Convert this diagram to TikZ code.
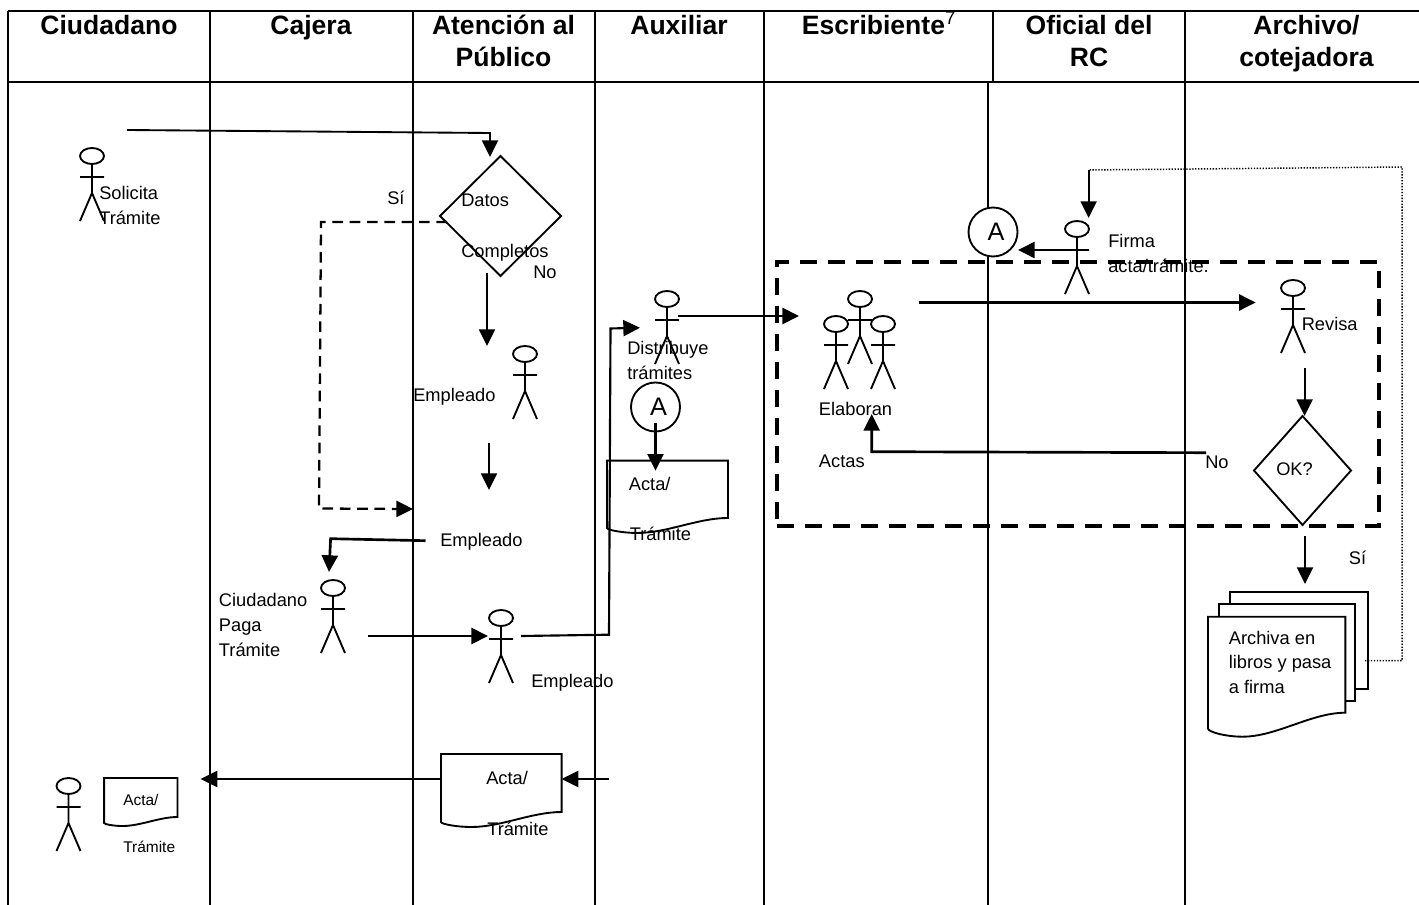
\documentclass[tikz,border=0pt]{standalone}
\usepackage{fontspec}
\setmainfont{Liberation Sans}
\usetikzlibrary{arrows.meta,calc,shapes.geometric}

\tikzset{
  hdr/.style={font=\fontsize{19.9}{23}\selectfont\bfseries, anchor=base, inner sep=0pt},
  lbl/.style={font=\fontsize{13.7}{18.75}\selectfont, anchor=base west, inner sep=0pt},
  lblsmall/.style={font=\fontsize{11.6}{14}\selectfont, anchor=base west, inner sep=0pt},
  lane/.style={line width=1.6pt},
  headline/.style={line width=2.2pt},
  flow/.style={line width=2pt, -{Triangle[length=12.5pt,width=12pt]}},
  thinshape/.style={line width=1.4pt},
  decision/.style={diamond, draw, thinshape, inner sep=0pt, outer sep=0pt},
  docbox/.style={inner sep=0pt, outer sep=0pt},
  sheet/.style={draw, thinshape, fill=white, inner sep=0pt, outer sep=0pt},
  connector/.style={circle, draw, thinshape, fill=white, minimum size=36.75pt, inner sep=0pt,
    font=\fontsize{19}{23}\selectfont},
  actor/.pic={
    \draw[thinshape] (0,0) ellipse (12 and 8);
    \draw[thinshape] (0,8) -- (0,37) (-12,21) -- (12,21) (-12,65) -- (0,37) -- (12,65);
  }
}

% outline of a sheet with a wavy foot: node name, drop of the lower left corner
\newcommand{\wavydoc}[2]{
  \draw[thinshape, fill=white] (#1.north west) -- (#1.north east) -- (#1.south east)
    .. controls ($(#1.south east)!.25!(#1.south west)$) and ($(#1.south east)!.5!(#1.south west)+(0,#2*1.5)$)
    .. ($(#1.south east)!.75!(#1.south west)+(0,#2*1.5)$)
    .. controls ($(#1.south east)!.87!(#1.south west)+(0,#2*1.5)$) and ($(#1.south west)+(0,#2*1.2)$)
    .. ($(#1.south west)+(0,#2)$) -- cycle;
}

\begin{document}
\begin{tikzpicture}[x=0.75pt, y=-0.75pt]
  \useasboundingbox (0,0) rectangle (1419,905);

  % ---------------- lanes ----------------
  \draw[headline] (8,11) -- (1419,11);
  \draw[headline] (8,82) -- (1419,82);
  \draw[headline] (8,11) -- (8,905);
  \draw[lane] (210,11) -- (210,905);
  \draw[lane] (413,11) -- (413,905);
  \draw[lane] (595,11) -- (595,905);
  \draw[lane] (764,11) -- (764,905);
  \draw[lane] (993,11) -- (993,82);
  \draw[lane] (988,82) -- (988,905);
  \draw[lane] (1185,11) -- (1185,905);

  \node[hdr] (hciudadano) at (109,35) {Ciudadano};
  \node[hdr] (hcajera) at (311,35) {Cajera};
  \node[hdr] (hatencion) at (503.5,35) {Atención al};
  \node[hdr] (hpublico) at (503.5,67) {Público};
  \node[hdr] (hauxiliar) at (679,35) {Auxiliar};
  \node[hdr] (hescribiente) at (879,35) {Escribiente\textsuperscript{\normalfont 7}};
  \node[hdr] (hoficial) at (1089,35) {Oficial del};
  \node[hdr] (hrc) at (1089,67) {RC};
  \node[hdr] (harchivo) at (1306.5,35) {Archivo/};
  \node[hdr] (hcotejadora) at (1306.5,67) {cotejadora};

  % ---------------- shapes ----------------
  \node[draw, line width=2.8pt, dash pattern=on 12.7pt off 8.3pt, inner sep=0pt, outer sep=0pt,
    minimum width=451.5pt, minimum height=198pt] (elaboracion) at (1078,394) {};

  \node[decision, minimum width=90.75pt, minimum height=90pt] (datos) at (500.5,216) {};
  \node[decision, minimum width=72.75pt, minimum height=81.75pt] (okrev) at (1302.5,470.5) {};

  \node[connector] (afirma) at (993,232) {\hspace*{4.5pt}A};
  \node[connector] (adistr) at (655.5,407) {\hspace*{4.5pt}A};

  \node[docbox, minimum width=90.75pt, minimum height=43pt] (actadoc) at (667.5,489.3) {};
  \wavydoc{actadoc}{10}
  \node[docbox, minimum width=90.45pt, minimum height=43.5pt] (actafin) at (501.3,783) {};
  \wavydoc{actafin}{10}
  \node[docbox, minimum width=55pt, minimum height=29.25pt] (actaciud) at (140.8,797.5) {};
  \wavydoc{actaciud}{6}

  % the pile of sheets, back to front
  \node[sheet, minimum width=103.2pt, minimum height=72.75pt] (archivoc) at (1298.8,640.5) {};
  \node[sheet, minimum width=102pt, minimum height=72.75pt] (archivob) at (1287,652.5) {};
  \node[docbox, minimum width=103pt, minimum height=72pt] (archivoa) at (1276.7,664.7) {};
  \wavydoc{archivoa}{16}

  % ---------------- actors ----------------
  \pic at (92,156) {actor};
  \pic at (525,354) {actor};
  \pic at (333,588) {actor};
  \pic at (501,618) {actor};
  \pic at (667,299) {actor};
  \pic at (68.5,786) {actor};
  \pic at (1077,229) {actor};
  \pic at (1293,288) {actor};
  \pic at (860,299) {actor};
  \pic at (836,324) {actor};
  \pic at (883,324) {actor};

  % ---------------- connectors ----------------
  % the connectors float free of the shapes, so their ends are named here
  \coordinate (solicitud) at (127,130);
  \coordinate (solicitudesq) at (490,133);
  \coordinate (datosin) at (490,157);
  \coordinate (datossi) at (447,222);
  \coordinate (sicodo) at (321,222);
  \coordinate (sibajo) at (319,508.5);
  \coordinate (siin) at (413,509);
  \coordinate (datosno) at (487,273);
  \coordinate (emplin) at (487,346);
  \coordinate (emplout) at (489,443);
  \coordinate (emplfin) at (489,490);
  \coordinate (cobroout) at (425.5,540.7);
  \coordinate (cobrocodo) at (330.6,538.7);
  \coordinate (cobroin) at (329,572);
  \coordinate (pagoout) at (368,636);
  \coordinate (pagoin) at (488,636);
  \coordinate (cajaout) at (521,636);
  \coordinate (cajacodo) at (609,634.7);
  \coordinate (cajaarriba) at (610.5,328.5);
  \coordinate (distin) at (640,327.7);
  \coordinate (distout) at (678.4,316);
  \coordinate (escrin) at (799,316);
  \coordinate (escrout) at (919,302.5);
  \coordinate (revin) at (1255.7,302.5);
  \coordinate (revout) at (1304.6,367.7);
  \coordinate (okin) at (1304.6,416);
  \coordinate (oksi) at (1305,535.7);
  \coordinate (archin) at (1305,584);
  \coordinate (okno) at (1206,452.7);
  \coordinate (nocodo) at (871.7,451.7);
  \coordinate (noin) at (871.7,414);
  \coordinate (archout) at (1365,660.7);
  \coordinate (dotdcha) at (1402,660.7);
  \coordinate (dotsup) at (1402,167);
  \coordinate (firmain) at (1088.6,170);
  \coordinate (firmafin) at (1088.6,218);
  \coordinate (firmaout) at (1065.5,250);
  \coordinate (ain) at (1018,250);
  \coordinate (adout) at (655.5,423);
  \coordinate (actain) at (655.5,470.7);
  \coordinate (auxout) at (609,779);
  \coordinate (finin) at (561.6,779);
  \coordinate (finout) at (441,779);
  \coordinate (ciudin) at (200.6,779);

  \draw[flow, line width=1.4pt] (solicitud) -- (solicitudesq) -- (datosin);
  \draw[flow, line width=1.7pt, dash pattern=on 8pt off 5pt] (datossi) -- (sicodo) -- (sibajo) -- (siin);
  \draw[flow, line width=1.6pt] (datosno) -- (emplin);
  \draw[flow, line width=1.6pt] (emplout) -- (emplfin);
  \draw[flow] (cobroout) -- (cobrocodo) -- (cobroin);
  \draw[flow] (pagoout) -- (pagoin);
  \draw[flow, line width=1.6pt] (cajaout) -- (cajacodo) -- (cajaarriba) -- (distin);
  \draw[flow] (distout) -- (escrin);
  \draw[flow] (escrout) -- (revin);
  \draw[flow, line width=1.6pt] (revout) -- (okin);
  \draw[flow, line width=1.6pt] (oksi) -- (archin);
  \draw[flow] (okno) -- (nocodo) -- (noin);
  \draw[line width=1.1pt, dash pattern=on 1pt off 1.2pt] (archout) -- (dotdcha) -- (dotsup) -- (firmain);
  \draw[flow, line width=1.6pt] (firmain) -- (firmafin);
  \draw[flow] (firmaout) -- (ain);
  \draw[flow, line width=1.6pt] (adout) -- (actain);
  \draw[flow] (auxout) -- (finin);
  \draw[flow] (finout) -- (ciudin);

  % ---------------- labels ----------------
  \node[lbl] (tsolicita) at (99,199.3) {Solicita};
  \node[lbl] (tsolicitab) at (99,224.3) {Trámite};
  \node[lbl] (tsidatos) at (387,205) {Sí};
  \node[lbl] (tdatos) at (461,206.7) {Datos};
  \node[lbl] (tcompletos) at (461,257.7) {Completos};
  \node[lbl] (tnodatos) at (533,278.3) {No};
  \node[lbl] (templa) at (413,401.7) {Empleado};
  \node[lbl] (templb) at (440,546.7) {Empleado};
  \node[lbl] (templc) at (531,687.7) {Empleado};
  \node[lbl] (tciud) at (218.7,606.7) {Ciudadano};
  \node[lbl] (tpaga) at (218.7,631.7) {Paga};
  \node[lbl] (tpagab) at (218.7,656.7) {Trámite};
  \node[lbl] (tdistr) at (627,354) {Distribuye};
  \node[lbl] (tdistrb) at (627,379) {trámites};
  \node[lbl] (tactaa) at (628.6,490) {Acta/};
  \node[lbl] (tactab) at (629.5,540.7) {Trámite};
  \node[lbl] (tfina) at (486,784) {Acta/};
  \node[lbl] (tfinb) at (487,835) {Trámite};
  \node[lblsmall] (tciuda) at (123,805) {Acta/};
  \node[lblsmall] (tciudb) at (123,852.3) {Trámite};
  \node[lbl] (tfirma) at (1108,247.3) {Firma};
  \node[lbl] (tfirmab) at (1108,272.7) {acta/trámite.};
  \node[lbl] (trevisa) at (1301.5,330.7) {Revisa};
  \node[lbl] (telaboran) at (818.7,415) {Elaboran};
  \node[lbl] (tactas) at (818.7,467.3) {Actas};
  \node[lbl] (tnorev) at (1205,468.3) {No};
  \node[lbl] (tok) at (1276,475) {OK?};
  \node[lbl] (tsirev) at (1348.6,564.3) {Sí};
  \node[lbl] (tarchiva) at (1228.6,644.3) {Archiva en};
  \node[lbl] (tlibros) at (1228.6,668.5) {libros y pasa};
  \node[lbl] (tafirma) at (1228.6,693.3) {a firma};

\end{tikzpicture}
\end{document}
